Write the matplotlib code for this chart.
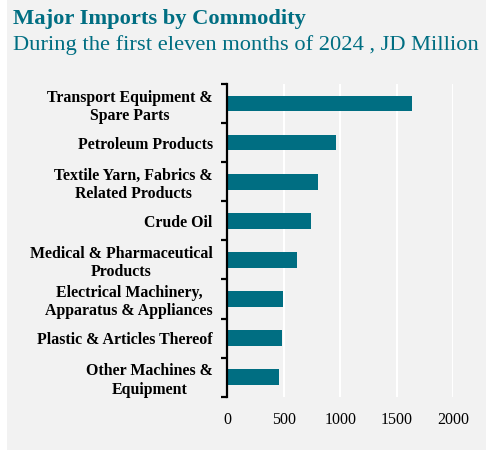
import matplotlib.pyplot as plt
from matplotlib.patches import Rectangle

# Imports by commodity, first eleven months of 2024 (JD million)
commodities = [
    'Transport Equipment &\nSpare Parts',
    'Petroleum Products',
    'Textile Yarn, Fabrics &\nRelated Products',
    'Crude Oil',
    'Medical & Pharmaceutical\nProducts',
    'Electrical Machinery,\nApparatus & Appliances',
    'Plastic & Articles Thereof',
    'Other Machines &\nEquipment',
]
values = [1638, 960, 804, 737, 618, 495, 483, 457]
x_ticks = [0, 500, 1000, 1500, 2000]

teal = '#006e82'
panel = '#f2f2f2'

plt.rcParams['font.family'] = ['Liberation Serif', 'DejaVu Serif']

fig = plt.figure(figsize=(4.86, 4.5), dpi=100)
fig.patch.set_facecolor('white')
# grey card behind everything, leaving a thin white strip on the left
fig.add_artist(Rectangle((7 / 486, 0), 1, 1, transform=fig.transFigure,
                         facecolor=panel, edgecolor='none', zorder=-10))

ax = fig.add_axes([227.3 / 486, 1 - 396.7 / 450,
                   (453.3 - 227.3) / 486, (396.7 - 84) / 450])
ax.set_facecolor(panel)

pos = list(range(len(commodities)))
ax.barh(pos, values, height=0.4, color=teal, zorder=3)

ax.set_ylim(len(commodities) - 0.5, -0.5)
ax.set_xlim(0, 2000)
ax.set_xticks(x_ticks)
ax.set_xticklabels([str(v) for v in x_ticks], fontsize=11.5)
ax.tick_params(axis='x', length=0, pad=11)

# category labels between the boundary ticks
ax.set_yticks(pos)
ax.set_yticklabels(commodities, fontsize=11.4, fontweight='bold')
ax.tick_params(axis='y', length=0, pad=10.5)
for t in ax.get_yticklabels():
    t.set_multialignment('center')
    t.set_linespacing(1.2)
ax.set_yticks([p - 0.5 for p in pos] + [len(commodities) - 0.5], minor=True)
ax.tick_params(axis='y', which='minor', length=4, width=1.6, direction='out')

ax.grid(axis='x', color='white', linewidth=1.5, zorder=0)
for side in ['top', 'right', 'bottom']:
    ax.spines[side].set_visible(False)
ax.spines['left'].set_linewidth(1.6)
ax.spines['left'].set_zorder(4)

fig.text(13 / 486, 1 - 24 / 450, 'Major Imports by Commodity',
         fontsize=16.2, fontweight='bold', color=teal, ha='left', va='baseline')
fig.text(13 / 486, 1 - 50 / 450, 'During the first eleven months of 2024 , JD Million',
         fontsize=16.2, color=teal, ha='left', va='baseline')

fig.savefig('out.png', dpi=100, facecolor=fig.get_facecolor())
